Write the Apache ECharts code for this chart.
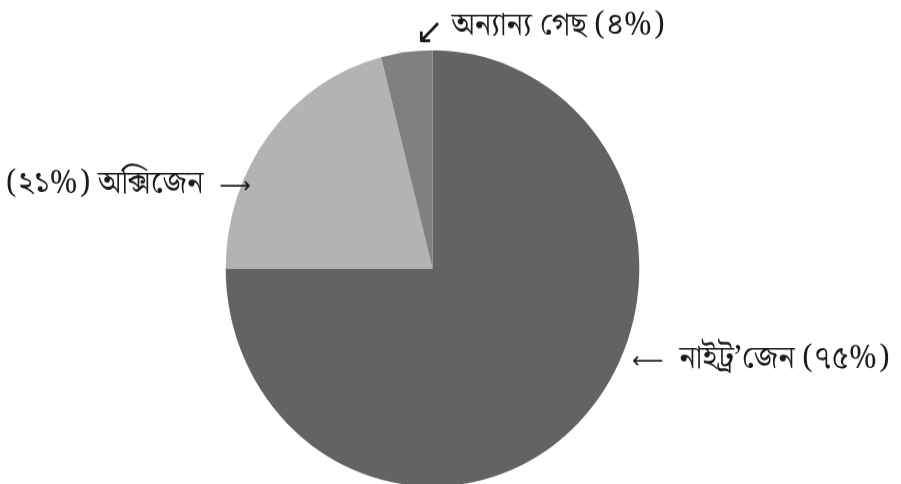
<!DOCTYPE html>
<html>
<head>
<meta charset="utf-8">
<script src="https://cdn.jsdelivr.net/npm/echarts@6/dist/echarts.min.js"></script>
<style>
html,body{margin:0;padding:0;background:#fff;overflow:hidden;}
#wrap{width:901px;height:484px;overflow:hidden;}
#c{width:901px;height:459px;transform:scaleY(1.0545);transform-origin:0 0;}
</style>
</head>
<body>
<div id="wrap"><div id="c"></div></div>
<script>
// Data
var categories = ['নাইট্র’জেন', 'অক্সিজেন', 'অন্যান্য গেছ'];
var values = [75, 21, 4];
var valueLabels = ['৭৫%', '২১%', '৪%'];
var colors = ['#636363', '#b3b3b3', '#808080'];

var SY = 1.0545;
var labelText = [
  '{ah|⟵}{t|  ' + categories[0] + ' (' + valueLabels[0] + ')}',
  '{t|(' + valueLabels[1] + ') ' + categories[1] + '  }{ah|⟶}',
  '{ad|↙}{t| ' + categories[2] + ' (' + valueLabels[2] + ')}'
];
var labelPos = [
  {x: 632, y: 362, align: 'left'},
  {x: 251, y: 187, align: 'right'},
  {x: 415, y: 29, align: 'left'}
];

var chart = echarts.init(document.getElementById('c'), null, {renderer: 'canvas'});
chart.setOption({
  animation: false,
  backgroundColor: '#fff',
  series: [{
    type: 'pie',
    center: [432.5, 268.3 / SY],
    radius: 206.8,
    startAngle: 90,
    clockwise: true,
    avoidLabelOverlap: false,
    data: categories.map(function (n, i) {
      return {name: n, value: values[i], itemStyle: {color: colors[i]}};
    }),
    label: {
      show: true,
      formatter: function (p) { return labelText[p.dataIndex]; },
      color: '#1a1a1a',
      rich: {
        t: {
          fontFamily: '"Noto Serif Bengali", "Noto Sans Bengali", serif',
          fontSize: 31, color: '#1a1a1a', lineHeight: 44, verticalAlign: 'middle'
        },
        ah: {
          fontFamily: '"DejaVu Sans"', fontSize: 22, color: '#1a1a1a',
          lineHeight: 44, verticalAlign: 'middle'
        },
        ad: {
          fontFamily: '"DejaVu Sans"', fontSize: 34, color: '#1a1a1a',
          lineHeight: 44, verticalAlign: 'bottom'
        }
      }
    },
    labelLine: {show: false},
    labelLayout: function (p) {
      var lp = labelPos[p.dataIndex];
      return {x: lp.x, y: lp.y / SY, align: lp.align, verticalAlign: 'middle'};
    },
    emphasis: {disabled: true}
  }]
});
</script>
</body>
</html>
